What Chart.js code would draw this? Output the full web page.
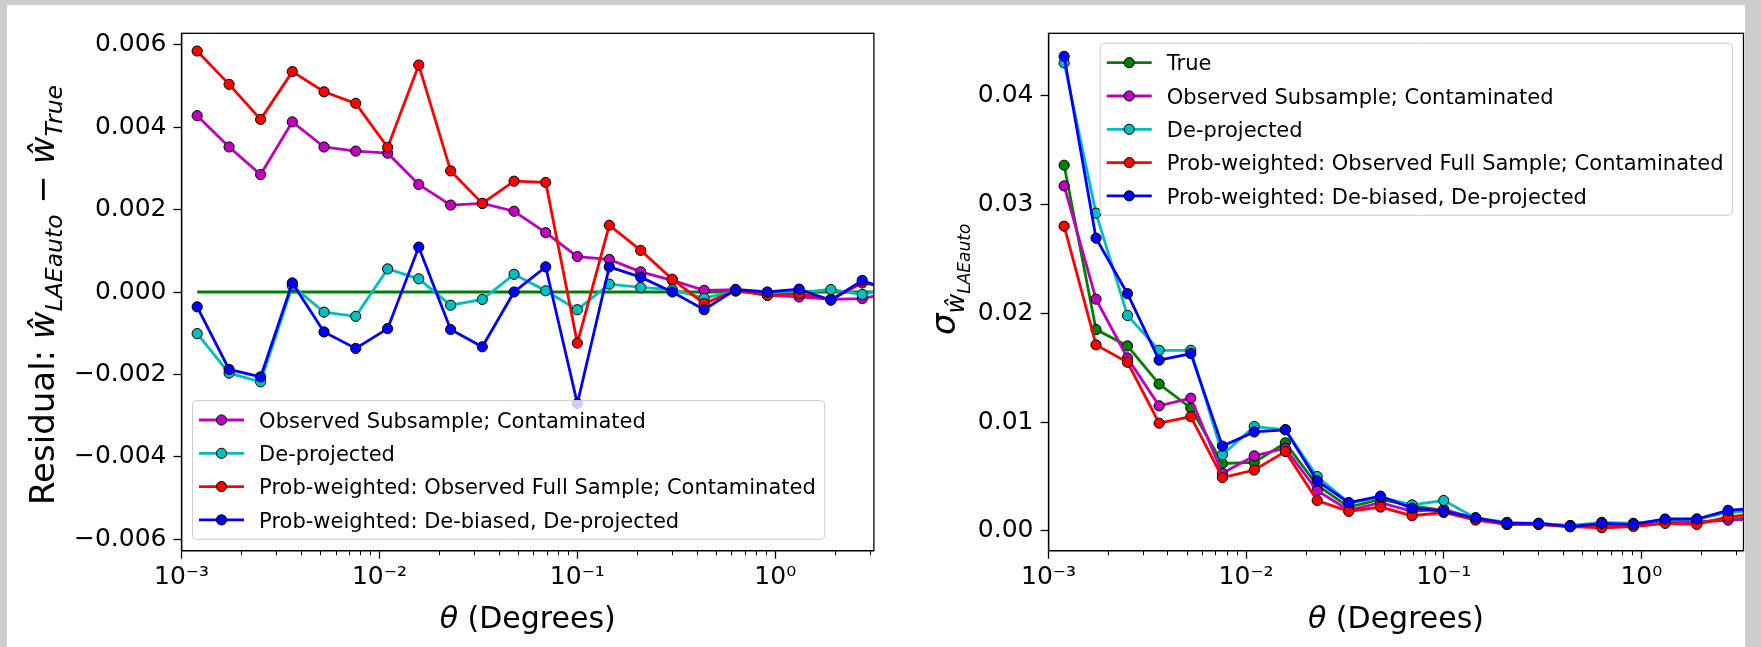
<!DOCTYPE html>
<html>
<head>
<meta charset="utf-8">
<script src="https://cdn.jsdelivr.net/npm/chart.js@4.4.0/dist/chart.umd.min.js"></script>
<style>
  html, body { margin: 0; padding: 0; background: #cccccc; width: 1761px; height: 647px; overflow: hidden; }
  #panel { position: absolute; left: 7px; top: 5px; width: 1738px; height: 642px; background: #fff; }
  canvas { position: absolute; top: 0; }
  #left { left: 0; }
  #right { left: 880px; }
</style>
</head>
<body>
<div id="panel"></div>
<canvas id="left" width="880" height="647"></canvas>
<canvas id="right" width="881" height="647"></canvas>
<script>
// theta bins (degrees); the last one sits just past the axis limit
const theta = [0.00120, 0.00174, 0.00251, 0.00363, 0.00525, 0.00759, 0.0110, 0.0158, 0.0229, 0.0331,
  0.0479, 0.0692, 0.100, 0.145, 0.209, 0.302, 0.437, 0.631, 0.912, 1.32, 1.91, 2.75, 3.98];

const xTicks = [0.001, 0.01, 0.1, 1];
const xTickLabels = ['10⁻³', '10⁻²', '10⁻¹', '10⁰'];
const yTicksResid = [-0.006, -0.004, -0.002, 0, 0.002, 0.004, 0.006];
const yTicksSigma = [0, 0.01, 0.02, 0.03, 0.04];

const labels = ['True', 'Observed Subsample; Contaminated', 'De-projected',
  'Prob-weighted: Observed Full Sample; Contaminated', 'Prob-weighted: De-biased, De-projected'];
const colors = ['#008000', '#bf00bf', '#00bfbf', '#ff0000', '#0000ff'];

// left panel: residual w_hat - w_true
const residTrue = [0, 0, 0, 0, 0, 0, 0, 0, 0, 0, 0, 0, 0, 0, 0, 0, 0, 0, 0, 0, 0, 0, 0];
const residObs = [0.00428, 0.00352, 0.00285, 0.00413, 0.00352, 0.00342, 0.00337, 0.00261, 0.00211, 0.00215,
  0.00196, 0.00144, 0.00086, 0.00079, 0.00049, 0.00028, 0.00004, 0.00006, -0.00008, -0.00012, -0.00018, -0.00016, 0.0000];
const residDeproj = [-0.00101, -0.00197, -0.00218, 0.00015, -0.00049, -0.00059, 0.00056, 0.00032, -0.00032, -0.00018,
  0.00043, 0.00003, -0.00043, 0.00019, 0.00011, 0.00006, -0.00015, 0.00002, -0.00001, -0.00001, 0.00006, -0.00006, 0.0001];
const residProbObs = [0.00585, 0.00504, 0.00419, 0.00535, 0.00486, 0.00458, 0.00351, 0.00551, 0.00294, 0.00215,
  0.00269, 0.00266, -0.00124, 0.00162, 0.00101, 0.00031, -0.00028, 0.00004, -0.00008, -0.00004, -0.00018, 0.00022, 0.0001];
const residProbDebias = [-0.00036, -0.00188, -0.00206, 0.00022, -0.00097, -0.00137, -0.00089, 0.00109, -0.00091, -0.00133,
  0.0, 0.00061, -0.00271, 0.00061, 0.00036, 0.0, -0.00043, 0.00006, 0.0, 0.00007, -0.0002, 0.00028, 0.0];

// right panel: sigma of w_hat
const sigTrue = [0.0336, 0.0185, 0.0170, 0.0135, 0.0113, 0.0062, 0.0063, 0.0081, 0.0042, 0.0022,
  0.0029, 0.0023, 0.0019, 0.0012, 0.0007, 0.0007, 0.0005, 0.0007, 0.0007, 0.0009, 0.0008, 0.0011, 0.0012];
const sigObs = [0.0317, 0.0213, 0.0159, 0.0115, 0.0122, 0.0053, 0.0069, 0.0076, 0.0037, 0.0019,
  0.0026, 0.0018, 0.0020, 0.0011, 0.0006, 0.0006, 0.0004, 0.0006, 0.0005, 0.0008, 0.0008, 0.0010, 0.0011];
const sigDeproj = [0.0430, 0.0292, 0.0198, 0.0166, 0.0166, 0.0070, 0.0096, 0.0093, 0.0050, 0.0026,
  0.0031, 0.0024, 0.0028, 0.0012, 0.0008, 0.0007, 0.0005, 0.0008, 0.0007, 0.0010, 0.0011, 0.0017, 0.0019];
const sigProbObs = [0.0280, 0.0171, 0.0155, 0.0099, 0.0105, 0.0049, 0.0056, 0.0073, 0.0028, 0.0018,
  0.0022, 0.0014, 0.0017, 0.0010, 0.0006, 0.0006, 0.0004, 0.0003, 0.0004, 0.0007, 0.0006, 0.0013, 0.0016];
const sigProbDebias = [0.0436, 0.0269, 0.0218, 0.0157, 0.0163, 0.0078, 0.0091, 0.0093, 0.0046, 0.0026,
  0.0032, 0.0021, 0.0018, 0.0012, 0.0007, 0.0007, 0.0004, 0.0007, 0.0006, 0.0011, 0.0011, 0.0019, 0.0021];

const FONT = "'DejaVu Sans'";
Chart.defaults.font.family = FONT;
Chart.defaults.color = '#000';

function makeSet(i, values, opts) {
  return Object.assign({
    label: labels[i],
    data: theta.map((t, k) => ({ x: t, y: values[k] })),
    borderColor: colors[i],
    backgroundColor: colors[i],
    pointBackgroundColor: colors[i],
    pointBorderColor: '#000',
    pointBorderWidth: 1,
    pointRadius: 5.1,
    borderWidth: 2.8,
    order: 5 - i,
    clip: 0,
    inLegend: true
  }, opts || {});
}

// draws a run of text pieces (subscripts, italics), rotated for y titles
function drawRich(ctx, parts, x, y, rotated, center) {
  ctx.save();
  ctx.translate(x, y);
  if (rotated) ctx.rotate(-Math.PI / 2);
  ctx.fillStyle = '#000';
  ctx.textBaseline = 'alphabetic';
  ctx.textAlign = 'left';
  let total = 0;
  parts.forEach(p => {
    ctx.font = (p.italic ? 'italic ' : '') + p.size + 'px ' + FONT;
    p.w = ctx.measureText(p.t).width;
    total += p.w;
  });
  let cx = center ? -total / 2 : 0;
  parts.forEach(p => {
    ctx.font = (p.italic ? 'italic ' : '') + p.size + 'px ' + FONT;
    ctx.fillText(p.t, cx, p.dy || 0);
    cx += p.w;
  });
  ctx.restore();
}

const decor = {
  id: 'decor',
  afterDraw(chart, args, o) {
    const ctx = chart.ctx, a = chart.chartArea;
    const xs = chart.scales.x;
    ctx.save();
    // box around axes
    ctx.strokeStyle = '#000';
    ctx.lineWidth = 1.3;
    ctx.strokeRect(a.left, a.top, a.right - a.left, a.bottom - a.top);
    // minor log ticks
    ctx.lineWidth = 1;
    for (let d = 0.001; d <= 1.5; d *= 10) {
      for (let m = 2; m <= 9; m++) {
        const v = m * d;
        if (v > xs.max) break;
        const px = Math.round(xs.getPixelForValue(v)) + 0.5;
        ctx.beginPath();
        ctx.moveTo(px, a.bottom);
        ctx.lineTo(px, a.bottom + 4.5);
        ctx.stroke();
      }
    }
    // legend
    const items = chart.data.datasets.filter(d => d.inLegend);
    ctx.font = '21px ' + FONT;
    const textW = Math.max(...items.map(d => ctx.measureText(d.label).width));
    const rowH = 33.3;
    const w = 66.6 + textW + 9;
    const h = items.length * rowH + 5.5;
    const x0 = o.corner === 'lowerLeft' ? a.left + 11 : a.right - 11 - w;
    const y0 = o.corner === 'lowerLeft' ? a.bottom - 11.4 - h : a.top + 10;
    ctx.beginPath();
    ctx.roundRect(x0, y0, w, h, 4);
    ctx.fillStyle = 'rgba(255,255,255,0.8)';
    ctx.fill();
    ctx.strokeStyle = '#cccccc';
    ctx.lineWidth = 1;
    ctx.stroke();
    items.forEach((d, i) => {
      const cy = y0 + 19.4 + rowH * i;
      ctx.strokeStyle = d.borderColor;
      ctx.lineWidth = 2.8;
      ctx.beginPath();
      ctx.moveTo(x0 + 6.5, cy);
      ctx.lineTo(x0 + 51.5, cy);
      ctx.stroke();
      ctx.beginPath();
      ctx.arc(x0 + 29, cy, 5.1, 0, Math.PI * 2);
      ctx.fillStyle = d.borderColor;
      ctx.fill();
      ctx.strokeStyle = '#000';
      ctx.lineWidth = 1;
      ctx.stroke();
      ctx.fillStyle = '#000';
      ctx.textBaseline = 'alphabetic';
      ctx.fillText(d.label, x0 + 66.6, cy + 7.7);
    });
    ctx.restore();
    // axis titles
    drawRich(ctx, [{ t: 'θ', size: 30, italic: true }, { t: ' (Degrees)', size: 30 }],
      (a.left + a.right) / 2, 627.5, false, true);
    drawRich(ctx, o.yTitle, o.yTitleX, o.yTitleY, true, false);
  }
};

function makeChart(id, datasets, cfg) {
  return new Chart(document.getElementById(id), {
    type: 'line',
    data: { datasets: datasets },
    plugins: [decor],
    options: {
      responsive: false,
      animation: false,
      devicePixelRatio: 1,
      layout: { padding: cfg.padding },
      plugins: {
        legend: { display: false },
        tooltip: { enabled: false },
        decor: cfg.decor
      },
      scales: {
        x: {
          type: 'logarithmic',
          min: 0.001,
          max: cfg.xMax,
          afterFit: s => { s.height = 96.3; },
          afterBuildTicks: s => { s.ticks = xTicks.map(v => ({ value: v })); },
          ticks: {
            autoSkip: false,
            maxRotation: 0,
            padding: 4,
            font: { size: 25 },
            callback: v => xTickLabels[xTicks.indexOf(v)] ?? ''
          },
          grid: { drawOnChartArea: false, drawTicks: true, tickLength: 8, tickColor: '#000', tickWidth: 1.3 },
          border: { display: true, color: '#000', width: 1.3 }
        },
        y: {
          min: cfg.yMin,
          max: cfg.yMax,
          afterFit: s => { s.width = cfg.yWidth; },
          afterBuildTicks: s => { s.ticks = cfg.yTicks.map(v => ({ value: v })); },
          ticks: {
            autoSkip: false,
            padding: 7,
            font: { size: 25 },
            callback: cfg.yFmt
          },
          grid: { drawOnChartArea: false, drawTicks: true, tickLength: 8, tickColor: '#000', tickWidth: 1.3 },
          border: { display: true, color: '#000', width: 1.3 }
        }
      }
    }
  });
}

makeChart('left', [
  makeSet(0, residTrue, { pointRadius: 0, inLegend: false }),
  makeSet(1, residObs),
  makeSet(2, residDeproj),
  makeSet(3, residProbObs),
  makeSet(4, residProbDebias)
], {
  padding: { left: 0, right: 4.5, top: 33.3, bottom: 0 },
  xMax: 3.15,
  yMin: -0.00628, yMax: 0.00628,
  yWidth: 181.5,
  yTicks: yTicksResid,
  yFmt: v => (v < -1e-12 ? '−' : '') + Math.abs(v).toFixed(3),
  decor: {
    corner: 'lowerLeft',
    yTitleX: 54, yTitleY: 505,
    yTitle: [
      { t: 'Residual: ', size: 34 },
      { t: 'ŵ', size: 34, italic: true },
      { t: 'LAEauto', size: 23.5, italic: true, dy: 7.5 },
      { t: ' − ', size: 34 },
      { t: 'ŵ', size: 34, italic: true },
      { t: 'True', size: 23.5, italic: true, dy: 7.5 }
    ]
  }
});

makeChart('right', [
  makeSet(0, sigTrue),
  makeSet(1, sigObs),
  makeSet(2, sigDeproj),
  makeSet(3, sigProbObs),
  makeSet(4, sigProbDebias)
], {
  padding: { left: 68.5, right: 17.5, top: 33.3, bottom: 0 },
  xMax: 3.29,
  yMin: -0.00181, yMax: 0.04572,
  yWidth: 100,
  yTicks: yTicksSigma,
  yFmt: v => Math.abs(v).toFixed(2),
  decor: {
    corner: 'upperRight',
    yTitleX: 75, yTitleY: 335,
    yTitle: [
      { t: 'σ', size: 34, italic: true },
      { t: 'ŵ', size: 24, italic: true, dy: 9 },
      { t: 'LAEauto', size: 17, italic: true, dy: 15 }
    ]
  }
});
</script>
</body>
</html>
